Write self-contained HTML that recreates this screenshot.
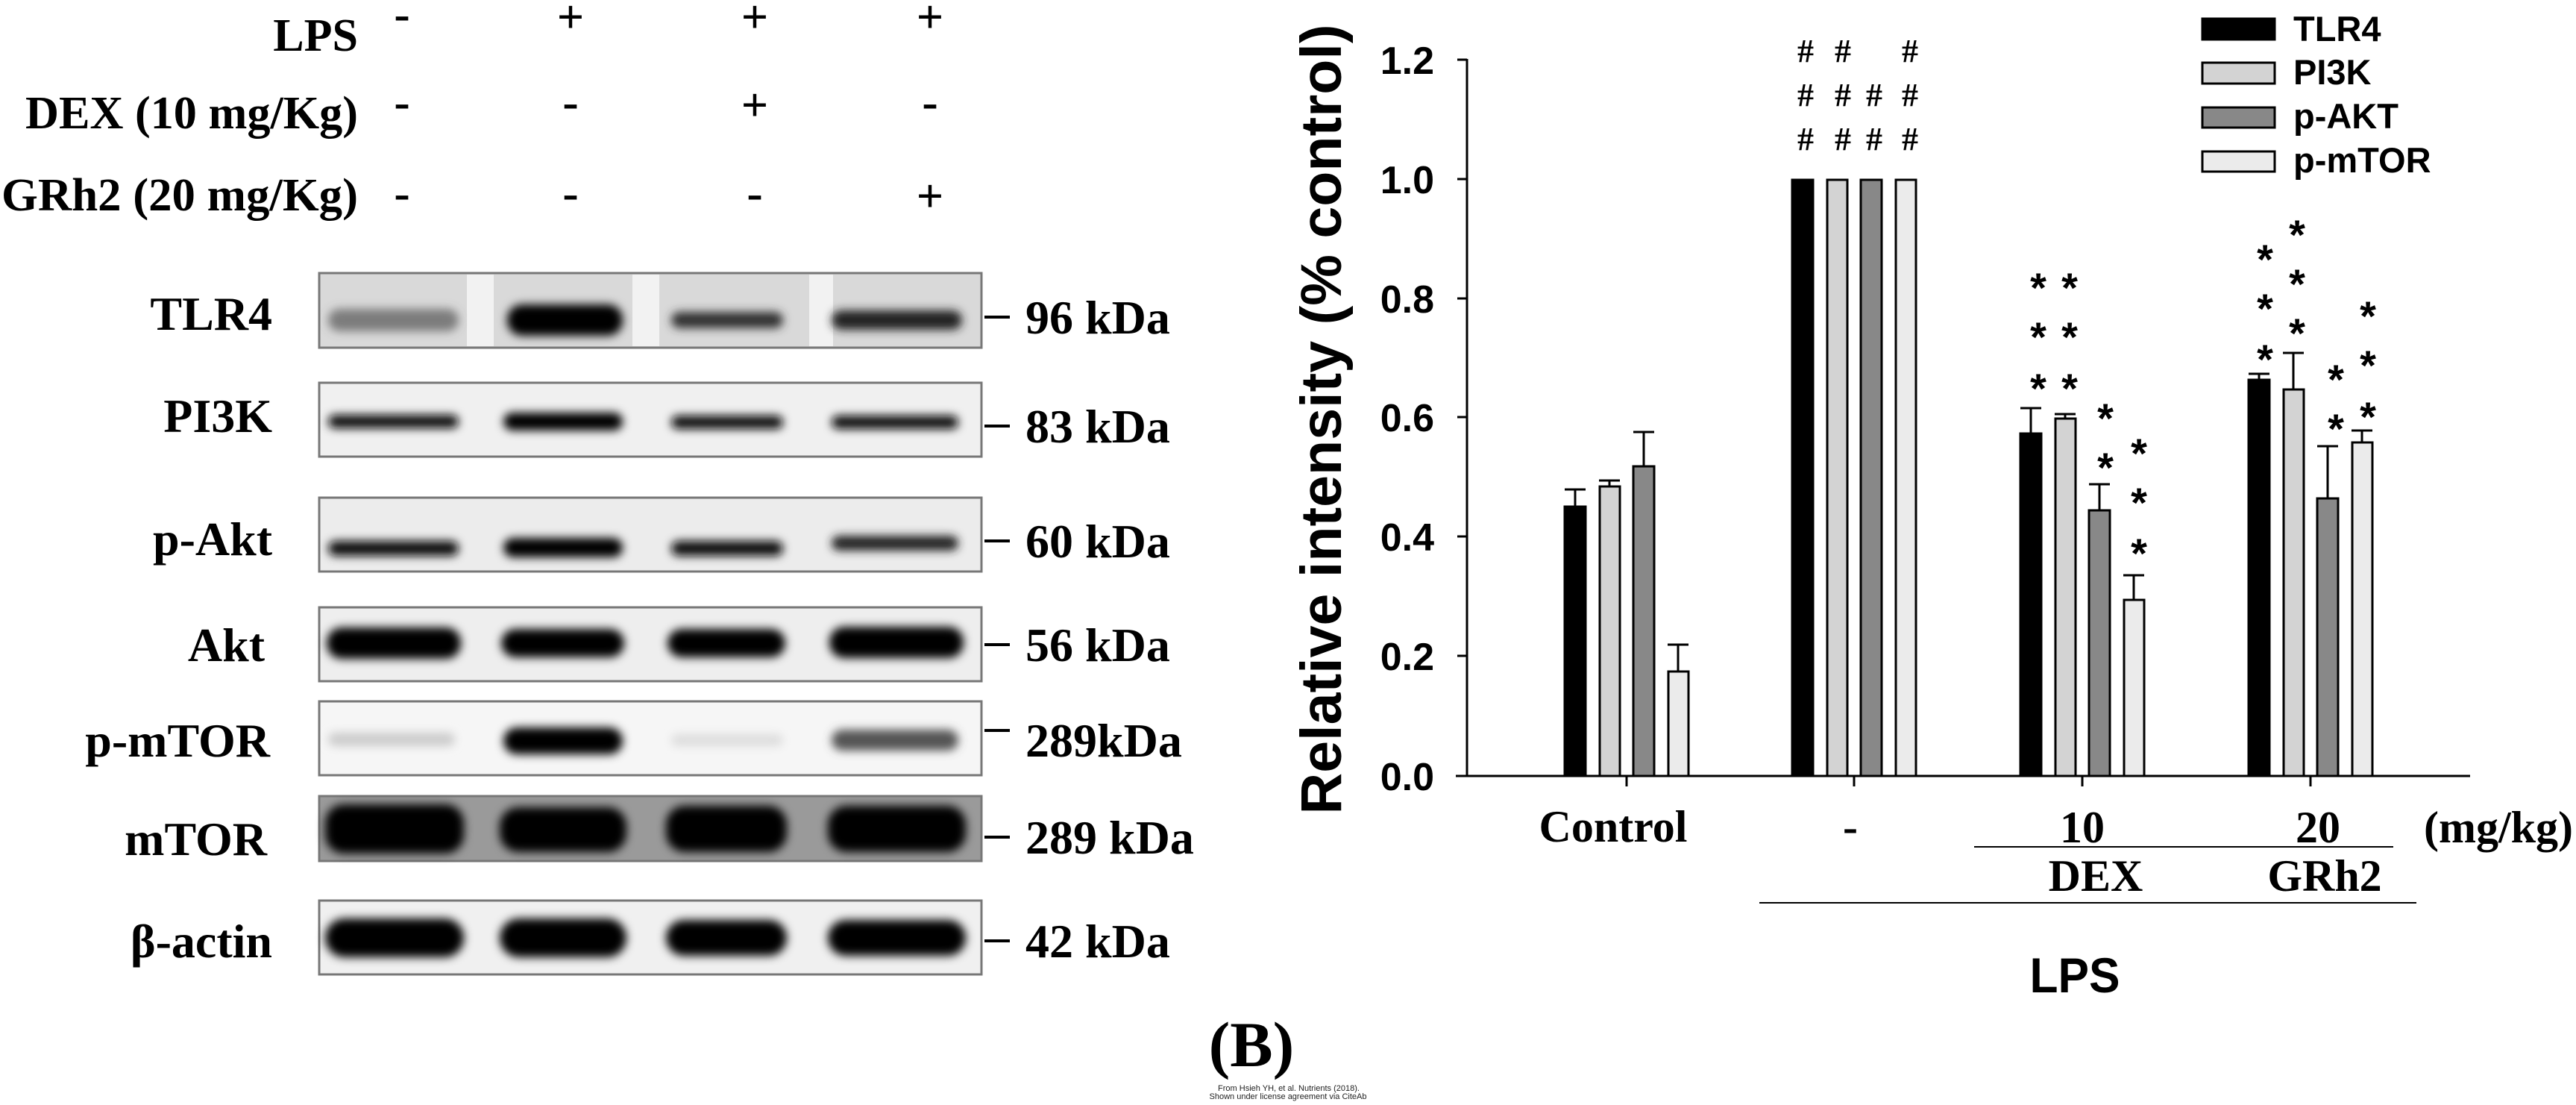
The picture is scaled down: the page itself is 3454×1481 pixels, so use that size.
<!DOCTYPE html>
<html><head><meta charset="utf-8"><style>html,body{margin:0;padding:0;background:#fff}svg{display:block}</style></head>
<body>
<svg width="3454" height="1481" viewBox="0 0 3454 1481" xmlns="http://www.w3.org/2000/svg">
<defs>
<filter id="bl" x="-20%" y="-100%" width="140%" height="300%"><feGaussianBlur stdDeviation="6"/></filter>
</defs>
<rect width="3454" height="1481" fill="#fff"/>
<g font-family="Liberation Serif, serif" font-weight="bold" font-size="62" fill="#000">
<text x="480" y="68" text-anchor="end">LPS</text>
<text x="34" y="172" textLength="446" lengthAdjust="spacingAndGlyphs">DEX (10 mg/Kg)</text>
<text x="2" y="282" textLength="478" lengthAdjust="spacingAndGlyphs">GRh2 (20 mg/Kg)</text>
<g text-anchor="middle" font-size="64">
<text x="539" y="40">-</text><text x="765" y="44">+</text><text x="1012" y="44">+</text><text x="1247" y="44">+</text>
<text x="539" y="158">-</text><text x="765" y="158">-</text><text x="1012" y="162">+</text><text x="1247" y="158">-</text>
<text x="539" y="280">-</text><text x="765" y="280">-</text><text x="1012" y="280">-</text><text x="1247" y="284">+</text>
</g>
<g text-anchor="end" font-size="64">
<text x="365" y="442">TLR4</text>
<text x="365" y="579">PI3K</text>
<text x="365" y="744">p-Akt</text>
<text x="355" y="886">Akt</text>
<text x="362" y="1014">p-mTOR</text>
<text x="358" y="1146">mTOR</text>
<text x="365" y="1283">β-actin</text>
</g>
<g font-size="64">
<text x="1375" y="447">96 kDa</text>
<text x="1375" y="593">83 kDa</text>
<text x="1375" y="747">60 kDa</text>
<text x="1375" y="886">56 kDa</text>
<text x="1375" y="1014">289kDa</text>
<text x="1375" y="1144">289 kDa</text>
<text x="1375" y="1283">42 kDa</text>
</g>
</g>
<g stroke="#000" stroke-width="4">
<line x1="1320" y1="425" x2="1354" y2="425"/>
<line x1="1320" y1="571" x2="1354" y2="571"/>
<line x1="1320" y1="725" x2="1354" y2="725"/>
<line x1="1320" y1="864" x2="1354" y2="864"/>
<line x1="1320" y1="979" x2="1354" y2="979"/>
<line x1="1320" y1="1122" x2="1354" y2="1122"/>
<line x1="1320" y1="1261" x2="1354" y2="1261"/>
</g>
<g stroke="#777" stroke-width="3">
<rect x="428" y="366" width="888" height="100" fill="#d9d9d9"/>
<rect x="428" y="513" width="888" height="99" fill="#f0f0f0"/>
<rect x="428" y="667" width="888" height="99" fill="#ececec"/>
<rect x="428" y="814" width="888" height="99" fill="#eeeeee"/>
<rect x="428" y="940" width="888" height="99" fill="#f6f6f6"/>
<rect x="428" y="1067" width="888" height="87" fill="#9a9a9a"/>
<rect x="428" y="1207" width="888" height="99" fill="#f0f0f0"/>
</g>
<g fill="#f2f2f2"><rect x="626" y="368" width="36" height="96"/><rect x="848" y="368" width="36" height="96"/><rect x="1085" y="368" width="32" height="96"/></g>
<g filter="url(#bl)">
<rect x="440" y="414" width="175" height="30" rx="15" fill="#555" opacity="0.7"/>
<rect x="680" y="408" width="155" height="42" rx="20" fill="#000"/>
<rect x="900" y="418" width="150" height="22" rx="11" fill="#333"/>
<rect x="1115" y="416" width="175" height="26" rx="13" fill="#222"/>
<rect x="440" y="556" width="175" height="18" rx="9" fill="#111"/>
<rect x="675" y="553" width="160" height="24" rx="12" fill="#000"/>
<rect x="900" y="557" width="150" height="18" rx="9" fill="#111"/>
<rect x="1115" y="557" width="170" height="18" rx="9" fill="#111"/>
<rect x="440" y="725" width="175" height="20" rx="10" fill="#111"/>
<rect x="675" y="721" width="160" height="26" rx="13" fill="#000"/>
<rect x="900" y="725" width="150" height="20" rx="10" fill="#111"/>
<rect x="1115" y="718" width="170" height="20" rx="10" fill="#222"/>
<rect x="438" y="841" width="180" height="42" rx="20" fill="#000"/>
<rect x="672" y="843" width="165" height="38" rx="19" fill="#000"/>
<rect x="895" y="843" width="158" height="38" rx="19" fill="#000"/>
<rect x="1112" y="840" width="180" height="42" rx="20" fill="#000"/>
<rect x="440" y="982" width="170" height="18" rx="9" fill="#ccc"/>
<rect x="675" y="975" width="160" height="36" rx="18" fill="#000"/>
<rect x="900" y="984" width="150" height="16" rx="8" fill="#ddd"/>
<rect x="1115" y="978" width="170" height="28" rx="14" fill="#555"/>
<rect x="436" y="1078" width="186" height="66" rx="25" fill="#000"/>
<rect x="670" y="1082" width="170" height="60" rx="25" fill="#000"/>
<rect x="893" y="1080" width="162" height="62" rx="25" fill="#000"/>
<rect x="1110" y="1080" width="185" height="62" rx="25" fill="#000"/>
<rect x="436" y="1231" width="186" height="52" rx="26" fill="#000"/>
<rect x="670" y="1231" width="170" height="52" rx="26" fill="#000"/>
<rect x="893" y="1233" width="162" height="48" rx="24" fill="#000"/>
<rect x="1110" y="1233" width="185" height="48" rx="24" fill="#000"/>
</g>
<text x="1678" y="1429" text-anchor="middle" font-family="Liberation Serif, serif" font-weight="bold" font-size="86">(B)</text>
<g font-family="Liberation Sans, sans-serif" font-size="11" text-anchor="middle" fill="#222">
<text x="1728" y="1462">From Hsieh YH, et al. Nutrients (2018).</text>
<text x="1727" y="1473">Shown under license agreement via CiteAb</text>
</g>
<g stroke="#000" stroke-width="3" fill="none">
<line x1="1967" y1="79" x2="1967" y2="1040"/>
<line x1="1952" y1="1040" x2="3312" y2="1040"/>
<line x1="1954" y1="80" x2="1967" y2="80"/>
<line x1="1954" y1="240" x2="1967" y2="240"/>
<line x1="1954" y1="400" x2="1967" y2="400"/>
<line x1="1954" y1="559" x2="1967" y2="559"/>
<line x1="1954" y1="719" x2="1967" y2="719"/>
<line x1="1954" y1="879" x2="1967" y2="879"/>
<line x1="2181" y1="1040" x2="2181" y2="1054"/>
<line x1="2486" y1="1040" x2="2486" y2="1054"/>
<line x1="2792" y1="1040" x2="2792" y2="1054"/>
<line x1="3098" y1="1040" x2="3098" y2="1054"/>
<line x1="2647" y1="1135" x2="3209" y2="1135" stroke-width="2"/>
<line x1="2359" y1="1210" x2="3240" y2="1210" stroke-width="2"/>
</g>
<g font-family="Liberation Sans, sans-serif" font-weight="bold" font-size="52" text-anchor="end">
<text x="1923" y="99">1.2</text>
<text x="1923" y="259">1.0</text>
<text x="1923" y="419">0.8</text>
<text x="1923" y="578">0.6</text>
<text x="1923" y="738">0.4</text>
<text x="1923" y="898">0.2</text>
<text x="1923" y="1059">0.0</text>
</g>
<text transform="translate(1798,562) rotate(-90)" text-anchor="middle" font-family="Liberation Sans, sans-serif" font-weight="bold" font-size="77" textLength="1059" lengthAdjust="spacingAndGlyphs">Relative intensity (% control)</text>
<g stroke="#000" stroke-width="3">
<rect x="2098" y="679" width="28" height="361" fill="#000"/>
<rect x="2145" y="652" width="27" height="388" fill="#d3d3d3"/>
<rect x="2190" y="625" width="28" height="415" fill="#888"/>
<rect x="2237" y="900" width="27" height="140" fill="#ebebeb"/>
<rect x="2403" y="241" width="28" height="799" fill="#000"/>
<rect x="2450" y="241" width="27" height="799" fill="#d3d3d3"/>
<rect x="2495" y="241" width="28" height="799" fill="#888"/>
<rect x="2542" y="241" width="27" height="799" fill="#ebebeb"/>
<rect x="2709" y="581" width="28" height="459" fill="#000"/>
<rect x="2756" y="561" width="27" height="479" fill="#d3d3d3"/>
<rect x="2801" y="684" width="28" height="356" fill="#888"/>
<rect x="2848" y="804" width="27" height="236" fill="#ebebeb"/>
<rect x="3015" y="509" width="28" height="531" fill="#000"/>
<rect x="3062" y="522" width="27" height="518" fill="#d3d3d3"/>
<rect x="3107" y="668" width="28" height="372" fill="#888"/>
<rect x="3154" y="593" width="27" height="447" fill="#ebebeb"/>
</g>
<g stroke="#000" stroke-width="3" fill="none">
<path d="M2112 679V656M2098 656H2126"/>
<path d="M2158 652V644M2144 644H2172"/>
<path d="M2204 625V579M2190 579H2218"/>
<path d="M2250 900V864M2236 864H2264"/>
<path d="M2723 581V547M2709 547H2737"/>
<path d="M2769 561V555M2755 555H2783"/>
<path d="M2815 684V649M2801 649H2829"/>
<path d="M2861 804V771M2847 771H2875"/>
<path d="M3029 509V501M3015 501H3043"/>
<path d="M3075 522V473M3061 473H3089"/>
<path d="M3121 668V598M3107 598H3135"/>
<path d="M3167 593V577M3153 577H3181"/>
</g>
<g font-family="Liberation Serif, serif" font-weight="bold" font-size="44" text-anchor="middle">
<text x="2421" y="83">#</text><text x="2421" y="142">#</text><text x="2421" y="201">#</text>
<text x="2471" y="83">#</text><text x="2471" y="142">#</text><text x="2471" y="201">#</text>
<text x="2513" y="142">#</text><text x="2513" y="201">#</text>
<text x="2561" y="83">#</text><text x="2561" y="142">#</text><text x="2561" y="201">#</text>
</g>
<g font-family="Liberation Sans, sans-serif" font-weight="bold" font-size="56" text-anchor="middle">
<text x="2733" y="405">*</text><text x="2733" y="471">*</text><text x="2733" y="540">*</text>
<text x="2775" y="405">*</text><text x="2775" y="471">*</text><text x="2775" y="540">*</text>
<text x="2823" y="580">*</text><text x="2823" y="646">*</text>
<text x="2868" y="627">*</text><text x="2868" y="693">*</text><text x="2868" y="761">*</text>
<text x="3037" y="367">*</text><text x="3037" y="433">*</text><text x="3037" y="501">*</text>
<text x="3080" y="334">*</text><text x="3080" y="400">*</text><text x="3080" y="466">*</text>
<text x="3132" y="528">*</text><text x="3132" y="594">*</text>
<text x="3175" y="443">*</text><text x="3175" y="509">*</text><text x="3175" y="578">*</text>
</g>
<g stroke="#000" stroke-width="3">
<rect x="2953" y="25" width="97" height="28" fill="#000"/>
<rect x="2953" y="84" width="97" height="28" fill="#d3d3d3"/>
<rect x="2953" y="144" width="97" height="27" fill="#888"/>
<rect x="2953" y="203" width="97" height="27" fill="#ebebeb"/>
</g>
<g font-family="Liberation Sans, sans-serif" font-weight="bold" font-size="47">
<text x="3075" y="55">TLR4</text>
<text x="3075" y="113">PI3K</text>
<text x="3075" y="172">p-AKT</text>
<text x="3075" y="231">p-mTOR</text>
</g>
<g font-family="Liberation Serif, serif" font-weight="bold" font-size="60" text-anchor="middle">
<text x="2163" y="1128">Control</text>
<text x="2481" y="1128">-</text>
<text x="2792" y="1129">10</text>
<text x="3108" y="1129">20</text>
<text x="2810" y="1194">DEX</text>
<text x="3117" y="1194">GRh2</text>
<text x="3350" y="1129">(mg/kg)</text>
</g>
<text x="2782" y="1330" text-anchor="middle" font-family="Liberation Sans, sans-serif" font-weight="bold" font-size="66" textLength="121" lengthAdjust="spacingAndGlyphs">LPS</text>
</svg>
</body></html>
